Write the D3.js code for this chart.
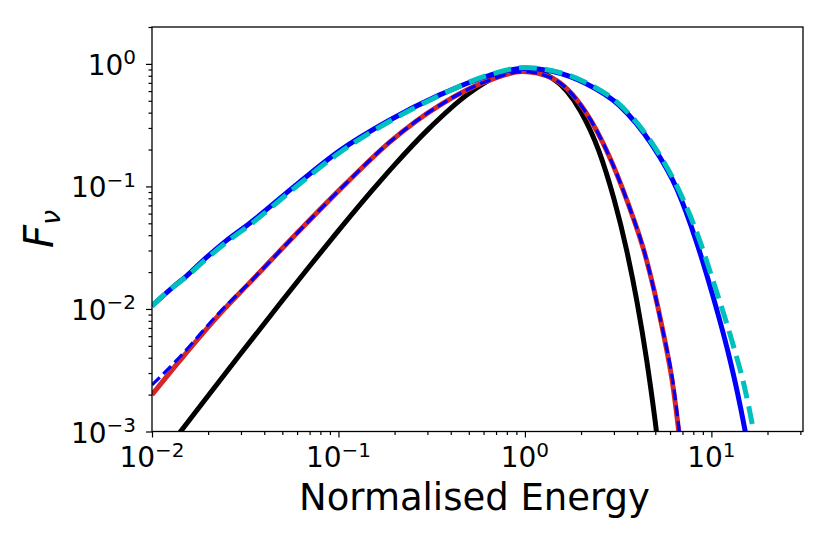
<!DOCTYPE html>
<html><head><meta charset="utf-8">
<script src="https://cdn.jsdelivr.net/npm/d3@7"></script>
<style>
html,body{margin:0;padding:0;background:#fff;}
svg{display:block;font-family:"DejaVu Sans",sans-serif;}
</style></head>
<body><svg id="c" width="830" height="554"></svg>
<script>
// Series (normalised energy, F_nu)
const blackEnergy = [0.01, 0.013, 0.015, 0.02, 0.03, 0.05, 0.07, 0.1, 0.15, 0.2, 0.3, 0.5, 0.7, 1.0, 1.4, 2.0, 2.5, 3.0, 3.5, 4.0, 4.5, 5.0, 5.5];
const blackSolid = [0.000497, 0.000836, 0.001109, 0.001959, 0.004345, 0.01172, 0.02234, 0.04355, 0.0910, 0.150, 0.288, 0.5734, 0.7856, 0.900, 0.7667, 0.4055, 0.1925, 0.0794, 0.0309, 0.01122, 0.0038, 0.0012, 0.000363];

const redEnergy = [0.01, 0.01413, 0.02312, 0.03342, 0.0618, 0.1099, 0.1875, 0.3467, 0.6412, 0.9683, 1.400, 2.109, 2.812, 3.597, 4.416, 5.433, 6.266, 6.668, 7.08];
const redSolid = [0.001995, 0.003802, 0.00912, 0.01641, 0.04365, 0.1059, 0.2291, 0.4571, 0.7328, 0.8650, 0.7638, 0.4083, 0.1807, 0.07063, 0.02754, 0.007178, 0.002183, 0.001028, 0.000447];
const blueDashed = [0.002399, 0.004074, 0.00944, 0.01648, 0.04365, 0.1059, 0.2291, 0.4571, 0.7328, 0.8650, 0.7638, 0.4083, 0.1807, 0.07063, 0.02754, 0.007178, 0.002344, 0.001122, 0.000501];

const upperEnergy = [0.01, 0.0130, 0.01535, 0.01845, 0.02512, 0.03342, 0.0618, 0.1012, 0.1875, 0.3467, 0.6412, 1.0, 1.40, 2.109, 3.184, 4.797];
const blueEnergyTail = [6.531, 8.318, 10.05, 12.33, 13.80, 15.14, 16.98];
const blueSolid = [0.01059, 0.01514, 0.01862, 0.02427, 0.03631, 0.05012, 0.1084, 0.1950, 0.3467, 0.5559, 0.8035, 0.9226, 0.8710, 0.6950, 0.4624, 0.2188,
                   0.09506, 0.03527, 0.01373, 0.004355, 0.00207, 0.001028, 0.000386];
const cyanEnergyTail = [7.079, 8.511, 10.26, 13.12, 14.96, 16.79, 18.20];
const cyanDashed = [0.01059, 0.01514, 0.01841, 0.02371, 0.03508, 0.04842, 0.1047, 0.1884, 0.3388, 0.5495, 0.8128, 0.9333, 0.8810, 0.7079, 0.4732, 0.2265,
                    0.07762, 0.03890, 0.01660, 0.005012, 0.002399, 0.001028, 0.000501];

// Axis ticks
const xMajorTicks = [0.01, 0.1, 1, 10];
const xMajorLabels = [["10", "\u22122"], ["10", "\u22121"], ["10", "0"], ["10", "1"]];
const yMajorTicks = [0.001, 0.01, 0.1, 1];
const yMajorLabels = [["10", "\u22123"], ["10", "\u22122"], ["10", "\u22121"], ["10", "0"]];
const xLabel = "Normalised Energy";

const L = 152, R = 803, T = 27, B = 431.5;
const svg = d3.select("#c");
const x = d3.scaleLog().domain([0.01, 31]).range([L, R]);
const y = d3.scaleLog().domain([0.001, 2.0]).range([B, T]);

svg.append("defs").append("clipPath").attr("id", "clip")
  .append("rect").attr("x", L).attr("y", T).attr("width", R - L).attr("height", B - T);

const line = d3.line()
  .x(d => x(d[0])).y(d => y(d[1]))
  .curve(d3.curveMonotoneX);
const zip = (xs, ys) => xs.map((e, i) => [e, ys[i]]);

const g = svg.append("g").attr("clip-path", "url(#clip)");
const series = [
  {d: zip(blackEnergy, blackSolid), c: "#000000", w: 5, dash: null},
  {d: zip(redEnergy, redSolid), c: "#d62728", w: 5, dash: null},
  {d: zip(redEnergy, blueDashed), c: "#0000ff", w: 3.2, dash: "11,5"},
  {d: zip(upperEnergy.concat(blueEnergyTail), blueSolid), c: "#0000ff", w: 5, dash: null},
  {d: zip(upperEnergy.concat(cyanEnergyTail), cyanDashed), c: "#00bfbf", w: 5, dash: "18,8"}
];
series.forEach(s => {
  g.append("path").datum(s.d)
    .attr("d", line).attr("fill", "none")
    .attr("stroke", s.c).attr("stroke-width", s.w)
    .attr("stroke-dasharray", s.dash)
    .attr("stroke-linejoin", "round");
});

function minors(lo, hi) {
  const out = [];
  for (let p = Math.floor(Math.log10(lo)); p <= Math.ceil(Math.log10(hi)); p++)
    for (let k = 2; k <= 9; k++) { const v = k * Math.pow(10, p); if (v >= lo && v <= hi * 1.001) out.push(v); }
  return out;
}

const xAxisMajor = d3.axisBottom(x).tickValues(xMajorTicks).tickSize(6).tickFormat("");
const xAxisMinor = d3.axisBottom(x).tickValues(minors(0.01, 31)).tickSize(3.5).tickFormat("");
const yAxisMajor = d3.axisLeft(y).tickValues(yMajorTicks).tickSize(6).tickFormat("");
const yAxisMinor = d3.axisLeft(y).tickValues(minors(0.001, 2)).tickSize(3.5).tickFormat("");
[[xAxisMajor, "x"], [xAxisMinor, "x"], [yAxisMajor, "y"], [yAxisMinor, "y"]].forEach(([ax, t]) => {
  const a = svg.append("g")
    .attr("transform", t === "x" ? `translate(0,${B})` : `translate(${L},0)`)
    .call(ax);
  a.select(".domain").remove();
  a.selectAll(".tick line").attr("stroke", "#000").attr("stroke-width", 1.2);
});

svg.append("rect").attr("x", L).attr("y", T).attr("width", R - L).attr("height", B - T)
  .attr("fill", "none").attr("stroke", "#000").attr("stroke-width", 1.3);

xMajorTicks.forEach((v, i) => {
  const t = svg.append("text").attr("x", x(v)).attr("y", 467)
    .attr("text-anchor", "middle").attr("font-size", 28).attr("fill", "#000");
  t.append("tspan").text(xMajorLabels[i][0]);
  t.append("tspan").attr("dy", -10.5).attr("font-size", 20).text(xMajorLabels[i][1]);
});
yMajorTicks.forEach((v, i) => {
  const t = svg.append("text").attr("x", 136).attr("y", y(v) + 11)
    .attr("text-anchor", "end").attr("font-size", 28).attr("fill", "#000");
  t.append("tspan").text(yMajorLabels[i][0]);
  t.append("tspan").attr("dy", -10.5).attr("font-size", 20).text(yMajorLabels[i][1]);
});

svg.append("text").attr("x", (L + R) / 2 - 3).attr("y", 510)
  .attr("text-anchor", "middle").attr("font-size", 37).attr("fill", "#000").text(xLabel);
const yl = svg.append("text").attr("transform", "translate(53,229) rotate(-90)")
  .attr("text-anchor", "middle").attr("fill", "#000");
yl.append("tspan").attr("font-size", 40).attr("font-style", "italic").text("F");
yl.append("tspan").attr("font-size", 27).attr("font-style", "italic").attr("dy", 7).text("\u03bd");
</script></body></html>
